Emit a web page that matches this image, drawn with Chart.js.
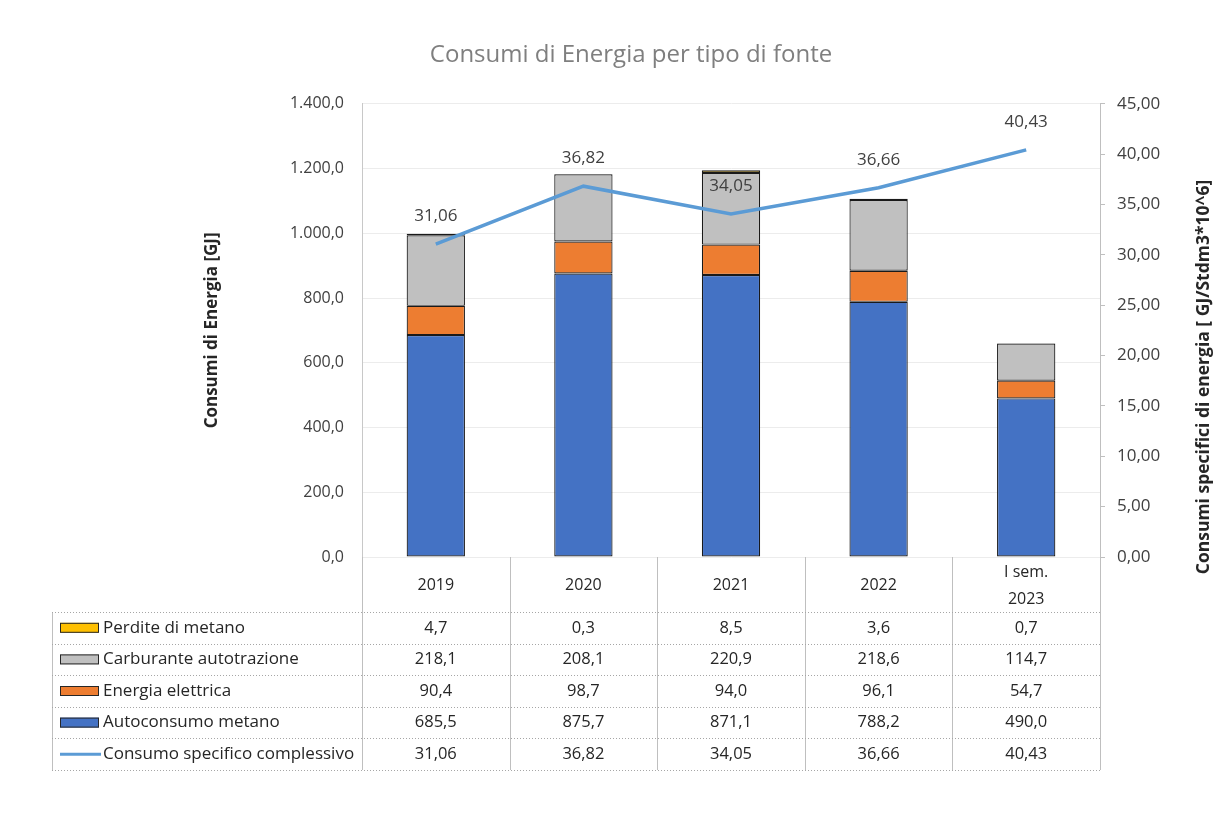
<!DOCTYPE html>
<html>
<head>
<meta charset="utf-8">
<script src="https://cdn.jsdelivr.net/npm/chart.js@4.4.1/dist/chart.umd.min.js"></script>
<style>
html,body{margin:0;padding:0;background:#fff;}
canvas{display:block;}
</style>
</head>
<body>
<canvas id="c" width="1226" height="814"></canvas>
<script>
// ---- data ----
const categories = [['2019'], ['2020'], ['2021'], ['2022'], ['I sem.', '2023']];
const perdite = [4.7, 0.3, 8.5, 3.6, 0.7];
const carburante = [218.1, 208.1, 220.9, 218.6, 114.7];
const energia = [90.4, 98.7, 94.0, 96.1, 54.7];
const autoconsumo = [685.5, 875.7, 871.1, 788.2, 490.0];
const specifico = [31.06, 36.82, 34.05, 36.66, 40.43];
const leftTicksMax = 1400, leftStep = 200;
const rightTicksMax = 45, rightStep = 5;

const FONT = "'Open Sans', 'Liberation Sans', sans-serif";

function fmt(v, d) {
  const s = Number(v).toFixed(d);
  let [i, f] = s.split('.');
  i = i.replace(/\B(?=(\d{3})+(?!\d))/g, '.');
  return f ? i + ',' + f : i;
}

const colors = {
  perdite: '#FFC000',
  carburante: '#C0C0C0',
  energia: '#ED7D31',
  autoconsumo: '#4472C4',
  line: '#5B9BD5'
};

// table rows in display order
const tableRows = [
  {label: 'Perdite di metano', data: perdite, dec: 1, color: colors.perdite, type: 'bar'},
  {label: 'Carburante autotrazione', data: carburante, dec: 1, color: colors.carburante, type: 'bar'},
  {label: 'Energia elettrica', data: energia, dec: 1, color: colors.energia, type: 'bar'},
  {label: 'Autoconsumo metano', data: autoconsumo, dec: 1, color: colors.autoconsumo, type: 'bar'},
  {label: 'Consumo specifico complessivo', data: specifico, dec: 2, color: colors.line, type: 'line'}
];

const tablePlugin = {
  id: 'dataTable',
  afterDatasetsDraw(chart) {
    const ctx = chart.ctx;
    // line labels
    const li = chart.data.datasets.findIndex(d => d.type === 'line');
    const meta = chart.getDatasetMeta(li);
    ctx.save();
    ctx.font = '17px ' + FONT;
    ctx.fillStyle = '#404040';
    ctx.textAlign = 'center';
    ctx.textBaseline = 'middle';
    meta.data.forEach((pt, i) => {
      ctx.fillText(fmt(chart.data.datasets[li].data[i], 2), pt.x, pt.y - 28);
    });
    ctx.restore();
  },
  afterDraw(chart) {
    const ctx = chart.ctx;
    const ca = chart.chartArea;
    const xs = chart.scales.x;
    const n = chart.data.labels.length;
    const colW = xs.getPixelForValue(1) - xs.getPixelForValue(0);
    const tableLeft = 52;
    const headerBottom = ca.bottom + 55;
    const rowH = 31.6;
    const tableBottom = headerBottom + rowH * tableRows.length;

    ctx.save();
    // vertical lines
    ctx.strokeStyle = '#bfbfbf';
    ctx.lineWidth = 1;
    for (let i = 0; i <= n; i++) {
      const x = Math.round(xs.getPixelForValue(0) - colW / 2 + i * colW) + 0.5;
      ctx.beginPath();
      ctx.moveTo(x, ca.bottom);
      ctx.lineTo(x, tableBottom);
      ctx.stroke();
    }
    ctx.beginPath();
    ctx.moveTo(tableLeft + 0.5, headerBottom);
    ctx.lineTo(tableLeft + 0.5, tableBottom);
    ctx.stroke();
    // horizontal dotted lines
    ctx.setLineDash([1, 2]);
    ctx.strokeStyle = '#a6a6a6';
    for (let r = 0; r <= tableRows.length; r++) {
      const y = Math.round(headerBottom + r * rowH) + 0.5;
      ctx.beginPath();
      ctx.moveTo(tableLeft, y);
      ctx.lineTo(ca.right, y);
      ctx.stroke();
    }
    ctx.setLineDash([]);

    // header
    ctx.font = '16px ' + FONT;
    ctx.fillStyle = '#262626';
    ctx.textAlign = 'center';
    ctx.textBaseline = 'middle';
    const headerMid = (ca.bottom + headerBottom) / 2 + 1;
    chart.data.labels.forEach((lab, i) => {
      const x = xs.getPixelForValue(i);
      const lines = Array.isArray(lab) ? lab : [lab];
      const lh = 27;
      lines.forEach((t, k) => {
        ctx.fillText(t, x, headerMid + (k - (lines.length - 1) / 2) * lh);
      });
    });

    // rows
    tableRows.forEach((row, r) => {
      const yMid = headerBottom + r * rowH + rowH / 2;
      // legend key
      if (row.type === 'bar') {
        ctx.fillStyle = row.color;
        ctx.fillRect(60, yMid - 5, 39, 10);
        ctx.strokeStyle = '#262626';
        ctx.lineWidth = 1;
        ctx.strokeRect(60.5, yMid - 4.5, 38, 9);
      } else {
        ctx.strokeStyle = row.color;
        ctx.lineWidth = 3;
        ctx.beginPath();
        ctx.moveTo(60, yMid);
        ctx.lineTo(101, yMid);
        ctx.stroke();
      }
      ctx.fillStyle = '#262626';
      ctx.textAlign = 'left';
      ctx.font = '17px ' + FONT;
      ctx.fillText(row.label, 103, yMid);
      ctx.textAlign = 'center';
      ctx.font = '16.5px ' + FONT;
      row.data.forEach((v, i) => {
        ctx.fillText(fmt(v, row.dec), xs.getPixelForValue(i), yMid);
      });
    });

    // right axis title (reads bottom to top)
    ctx.save();
    ctx.translate(1204, 377);
    ctx.rotate(-Math.PI / 2);
    ctx.font = 'bold 17.5px ' + FONT;
    ctx.fillStyle = '#262626';
    ctx.textAlign = 'center';
    ctx.textBaseline = 'middle';
    ctx.fillText('Consumi specifici di energia [ GJ/Stdm3*10^6]', 0, 0);
    ctx.restore();

    ctx.restore();
  }
};

const barCommon = {
  type: 'bar',
  yAxisID: 'y',
  borderColor: '#1a1a1a',
  borderWidth: 1.2,
  borderSkipped: false,
  categoryPercentage: 1,
  barPercentage: 0.395,
  order: 1,
  stack: 's'
};

const PADL = 36;

new Chart(document.getElementById('c'), {
  data: {
    labels: categories,
    datasets: [
      {type: 'line', label: 'Consumo specifico complessivo', data: specifico, yAxisID: 'y1',
       borderColor: colors.line, borderWidth: 3.5, pointRadius: 0, tension: 0, order: 0, fill: false},
      Object.assign({}, barCommon, {label: 'Autoconsumo metano', data: autoconsumo, backgroundColor: colors.autoconsumo}),
      Object.assign({}, barCommon, {label: 'Energia elettrica', data: energia, backgroundColor: colors.energia}),
      Object.assign({}, barCommon, {label: 'Carburante autotrazione', data: carburante, backgroundColor: colors.carburante}),
      Object.assign({}, barCommon, {label: 'Perdite di metano', data: perdite, backgroundColor: colors.perdite})
    ]
  },
  options: {
    responsive: false,
    animation: false,
    devicePixelRatio: 1,
    layout: {padding: {left: PADL, right: 0, top: 0, bottom: 257}},
    plugins: {
      legend: {display: false},
      tooltip: {enabled: false},
      title: {
        display: true,
        text: 'Consumi di Energia per tipo di fonte',
        color: '#7f7f7f',
        font: {family: FONT, size: 24, weight: 'normal', lineHeight: 1.2},
        padding: {top: 41, bottom: 34}
      }
    },
    scales: {
      x: {
        display: false,
        stacked: true,
        offset: true
      },
      y: {
        position: 'left',
        stacked: true,
        min: 0,
        max: leftTicksMax,
        ticks: {
          stepSize: leftStep,
          color: '#404040',
          font: {family: FONT, size: 16},
          padding: 18,
          callback: v => fmt(v, 1)
        },
        grid: {color: '#ececec', drawTicks: false},
        border: {display: true, color: '#c8c8c8'},
        title: {
          display: true,
          text: 'Consumi di Energia [GJ]',
          color: '#262626',
          font: {family: FONT, size: 17, weight: 'bold', lineHeight: 1.2},
          padding: {top: 202 - PADL, bottom: 0}
        },
        afterFit(scale) { scale.width = 362 - PADL; }
      },
      y1: {
        position: 'right',
        min: 0,
        max: rightTicksMax,
        ticks: {
          stepSize: rightStep,
          color: '#404040',
          font: {family: FONT, size: 17},
          padding: 12,
          callback: v => fmt(v, 2)
        },
        grid: {drawOnChartArea: false, tickLength: 5, color: '#bfbfbf'},
        border: {display: true, color: '#bfbfbf'},
        afterFit(scale) { scale.width = 126; }
      }
    }
  },
  plugins: [tablePlugin]
});
</script>
</body>
</html>
